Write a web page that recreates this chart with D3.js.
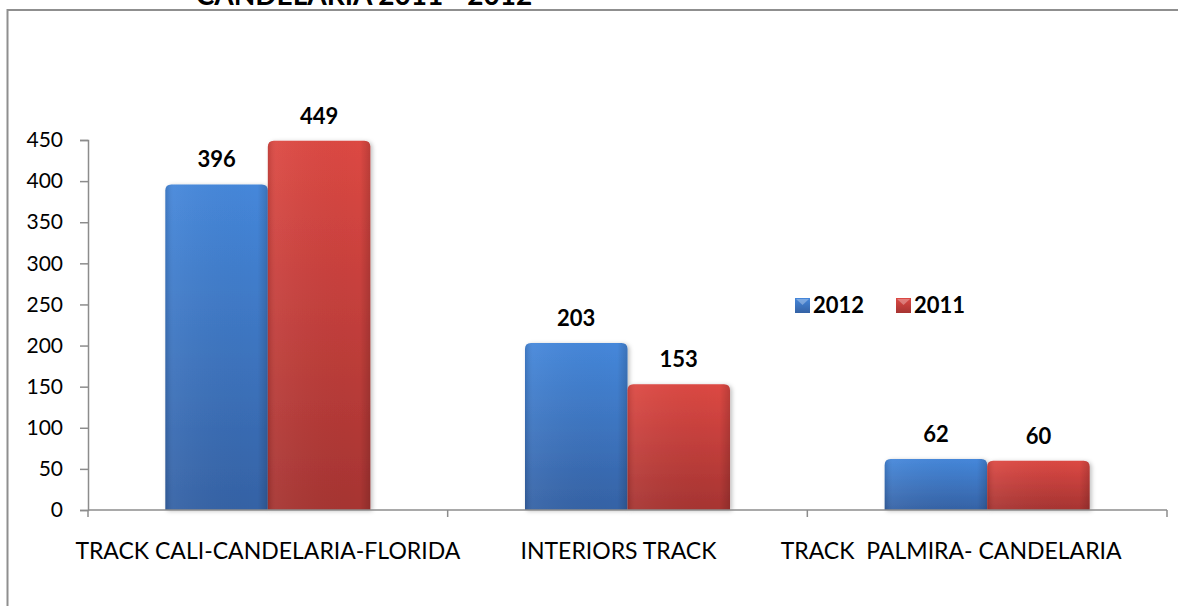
<!DOCTYPE html>
<html>
<head>
<meta charset="utf-8">
<script src="https://cdn.jsdelivr.net/npm/d3@7"></script>
<style>
  html, body { margin: 0; background: #fff; overflow: hidden; }
  svg { display: block; font-family: Lato, "Noto Sans", sans-serif; }
  .cat { white-space: pre; }
</style>
</head>
<body>
<svg id="chart" width="1178" height="606"></svg>
<script>
// chart data
const title = "CANDELARIA 2011 - 2012";
const categories = ["TRACK CALI-CANDELARIA-FLORIDA", "INTERIORS TRACK", "TRACK  PALMIRA- CANDELARIA"];
const series = ["2012", "2011"];
const values2012 = [396, 203, 62];
const values2011 = [449, 153, 60];
const yTicks = [0, 50, 100, 150, 200, 250, 300, 350, 400, 450];

const svg = d3.select("#chart");

// colours per series: [top, bottom]
const colors = {
  "2012": ["#4587da", "#3562a5"],
  "2011": ["#dc4843", "#a63432"]
};

const defs = svg.append("defs");
series.forEach(function (s) {
  const g = defs.append("linearGradient")
    .attr("id", "grad-" + s)
    .attr("x1", 0).attr("y1", 0).attr("x2", 0).attr("y2", 1);
  g.append("stop").attr("offset", "0%").attr("stop-color", colors[s][0]);
  g.append("stop").attr("offset", "100%").attr("stop-color", colors[s][1]);
});
// side shading so the bars look a bit rounded
const side = defs.append("linearGradient").attr("id", "side")
  .attr("x1", 0).attr("y1", 0).attr("x2", 1).attr("y2", 0);
side.append("stop").attr("offset", "0%").attr("stop-color", "#000").attr("stop-opacity", 0.12);
side.append("stop").attr("offset", "8%").attr("stop-color", "#fff").attr("stop-opacity", 0.05);
side.append("stop").attr("offset", "90%").attr("stop-color", "#000").attr("stop-opacity", 0);
side.append("stop").attr("offset", "100%").attr("stop-color", "#000").attr("stop-opacity", 0.15);

defs.append("filter").attr("id", "shadow")
  .attr("x", "-10%").attr("y", "-10%").attr("width", "130%").attr("height", "130%")
  .append("feDropShadow")
  .attr("dx", 2).attr("dy", 1).attr("stdDeviation", 2)
  .attr("flood-color", "#000").attr("flood-opacity", 0.25);

// outer frame (cut off at the right and bottom in the picture)
svg.append("rect")
  .attr("x", 7.5).attr("y", 10)
  .attr("width", 1300).attr("height", 700)
  .attr("fill", "none")
  .attr("stroke", "#8f8f8f")
  .attr("stroke-width", 2);

// title, mostly above the visible area
svg.append("text")
  .attr("x", 364).attr("y", 4.5)
  .attr("text-anchor", "middle")
  .attr("font-size", 28)
  .attr("font-weight", "bold")
  .text(title);

// scales
const x0 = d3.scaleBand().domain(categories).range([88, 1167]).padding(0);
const gap = x0.bandwidth() * 0.43;
const x1 = d3.scaleBand().domain(series).range([gap / 2, x0.bandwidth() - gap / 2]);
const y = d3.scaleLinear().domain([0, 450]).range([510, 140]);

const rows = categories.map(function (c, i) {
  return { cat: c, vals: [
    { s: "2012", v: values2012[i] },
    { s: "2011", v: values2011[i] }
  ] };
});

// y axis
const yAxis = svg.append("g")
  .attr("transform", "translate(88,0)")
  .call(d3.axisLeft(y).tickValues(yTicks).tickSize(8).tickPadding(17));
yAxis.select(".domain").attr("stroke", "#8c8c8c").attr("stroke-width", 1.5);
yAxis.selectAll(".tick line").attr("stroke", "#8c8c8c").attr("stroke-width", 1.5);
yAxis.selectAll(".tick text")
  .attr("font-size", 21)
  .attr("font-family", "Lato, 'Noto Sans', sans-serif")
  .attr("fill", "#000");

// bars
function barPath(x, top, w, bottom) {
  const r = Math.min(6, (bottom - top) / 2);
  return "M" + x + "," + bottom +
    "V" + (top + r) +
    "Q" + x + "," + top + " " + (x + r) + "," + top +
    "H" + (x + w - r) +
    "Q" + (x + w) + "," + top + " " + (x + w) + "," + (top + r) +
    "V" + bottom + "Z";
}

const groups = svg.append("g").selectAll("g")
  .data(rows)
  .join("g")
  .attr("transform", function (d) { return "translate(" + x0(d.cat) + ",0)"; });

const bars = groups.selectAll("g.bar")
  .data(function (d) { return d.vals; })
  .join("g")
  .attr("class", "bar");

bars.append("path")
  .attr("d", function (d) { return barPath(x1(d.s), y(d.v), x1.bandwidth(), y(0)); })
  .attr("fill", function (d) { return "url(#grad-" + d.s + ")"; })
  .attr("filter", "url(#shadow)");

bars.append("path")
  .attr("d", function (d) { return barPath(x1(d.s), y(d.v), x1.bandwidth(), y(0)); })
  .attr("fill", "url(#side)");

bars.append("text")
  .attr("x", function (d) { return x1(d.s) + x1.bandwidth() / 2; })
  .attr("y", function (d) { return y(d.v) - 17; })
  .attr("text-anchor", "middle")
  .attr("font-size", 22)
  .attr("font-weight", "bold")
  .text(function (d) { return d.v; });

// x axis
const xAxis = svg.append("g")
  .attr("transform", "translate(0,510)");
xAxis.append("line")
  .attr("x1", 88).attr("x2", 1167)
  .attr("stroke", "#8c8c8c").attr("stroke-width", 1.5);
xAxis.selectAll("line.tick")
  .data(categories.map(function (c) { return x0(c); }).concat([1167]))
  .join("line")
  .attr("class", "tick")
  .attr("x1", function (d) { return d; }).attr("x2", function (d) { return d; })
  .attr("y1", 0).attr("y2", 7)
  .attr("stroke", "#8c8c8c").attr("stroke-width", 1.5);
// the original labels sit a little left of the band centre for the last two
const labelShift = function (i) { return i === 0 ? 0 : (i === 1 ? -9 : -36); };
xAxis.selectAll("text")
  .data(categories)
  .join("text")
  .attr("class", "cat")
  .attr("x", function (d, i) { return x0(d) + x0.bandwidth() / 2 + labelShift(i); })
  .attr("y", 49)
  .attr("text-anchor", "middle")
  .attr("font-size", 23)
  .text(function (d) { return d; });

// legend
const legend = svg.append("g").attr("transform", "translate(795,298)");
const item = legend.selectAll("g")
  .data(series)
  .join("g")
  .attr("transform", function (d, i) { return "translate(" + i * 101 + ",0)"; });
item.append("rect")
  .attr("width", 15).attr("height", 15)
  .attr("fill", function (d) { return "url(#grad-" + d + ")"; });
item.append("path")
  .attr("d", "M1,1H14L7.5,7Z")
  .attr("fill", "#fff").attr("opacity", 0.3);
item.append("text")
  .attr("x", 18).attr("y", 15)
  .attr("font-size", 22)
  .attr("font-weight", "bold")
  .text(function (d) { return d; });
</script>
</body>
</html>
